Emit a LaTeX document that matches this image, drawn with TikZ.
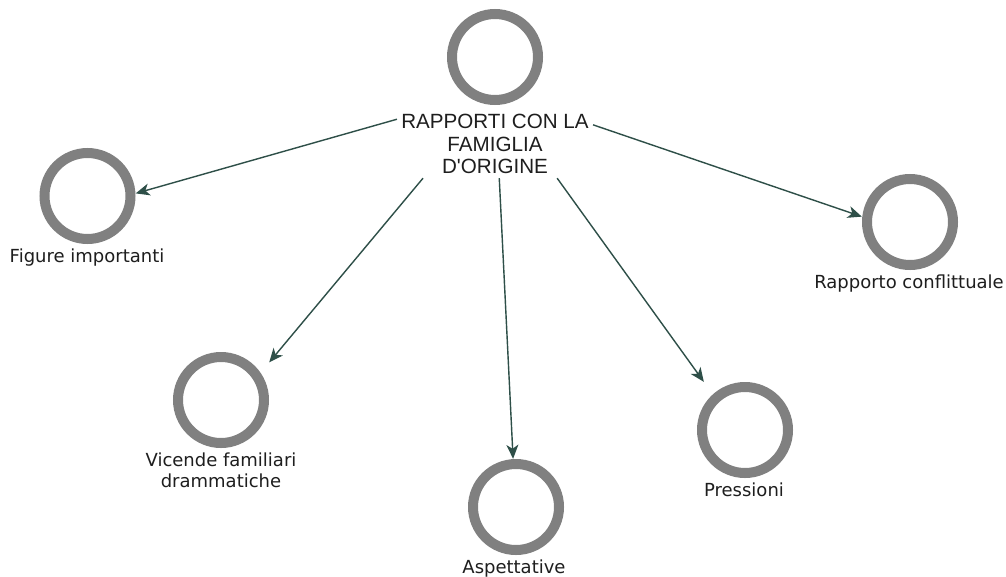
\documentclass[tikz,border=0pt]{standalone}
\usepackage{fontspec}
\setmainfont{DejaVu Sans}
\newfontfamily\titlefont{Liberation Sans}
\usetikzlibrary{arrows.meta,fit}
\definecolor{ringgray}{HTML}{808080}
\definecolor{arrowcol}{HTML}{2E4F48}
\definecolor{textcol}{HTML}{1E1E1E}
\begin{document}
\begin{tikzpicture}[x=1pt,y=-1pt,
  ringnode/.style={draw=none, minimum size=96pt, inner sep=0pt, outer sep=0pt},
  ringpath/.style={draw=ringgray, line width=10pt},
  lbl/.style={font=\fontsize{18}{21}\selectfont, text=textcol, inner sep=0pt, align=center},
  ttl/.style={font=\titlefont\fontsize{20.6}{22.5}\selectfont, text=textcol, inner sep=0pt, align=center},
  grp/.style={inner sep=0pt},
  arr/.style={draw=arrowcol, line width=1.4pt, -{Stealth[length=14pt,width=12pt,inset=4pt]}}]
\useasboundingbox[fill=white] (0,0) rectangle (1006,576);

% central concept
\node[ringnode] (c0) at (495,57) {};
\draw[ringpath] (c0.center) circle[radius=43pt];
\node[ttl, anchor=north] (t0) at (495,114) {RAPPORTI CON LA\\FAMIGLIA\\D\textquotesingle ORIGINE};

% sub concepts
\node[ringnode] (c1) at (87.5,196) {};
\draw[ringpath] (c1.center) circle[radius=43pt];
\node[lbl, anchor=base] (l1) at (87,262) {Figure importanti};

\node[ringnode] (c2) at (910,222) {};
\draw[ringpath] (c2.center) circle[radius=43pt];
\node[lbl, anchor=base] (l2) at (909,288) {Rapporto conflittuale};

\node[ringnode] (c3) at (221,400) {};
\draw[ringpath] (c3.center) circle[radius=43pt];
\node[lbl, anchor=north] (l3) at (221,453) {Vicende familiari\\drammatiche};

\node[ringnode] (c4) at (516,507) {};
\draw[ringpath] (c4.center) circle[radius=43pt];
\node[lbl, anchor=base] (l4) at (514,573) {Aspettative};

\node[ringnode] (c5) at (745,430) {};
\draw[ringpath] (c5.center) circle[radius=43pt];
\node[lbl, anchor=base] (l5) at (744,496) {Pressioni};

% groups (ring square extended down to the label)
\node[grp, inner sep=4pt, fit=(c0)(t0)] (g0) {};
\node[grp, fit=(c1)(l1.south -| c1)] (g1) {};
\node[grp, fit=(c2)(l2.south -| c2)] (g2) {};
\node[grp, fit=(c3)(l3.south -| c3)] (g3) {};
\node[grp, fit=(c4)(l4.south -| c4)] (g4) {};
\node[grp, fit=(c5)(l5.south -| c5)] (g5) {};

% connectors
\draw[arr] (g0) -- (g1);
\draw[arr] (g0) -- (g2);
\draw[arr] (g0) -- (g3);
\draw[arr] (g0) -- (g4);
\draw[arr] (g0) -- (g5);
\end{tikzpicture}
\end{document}
